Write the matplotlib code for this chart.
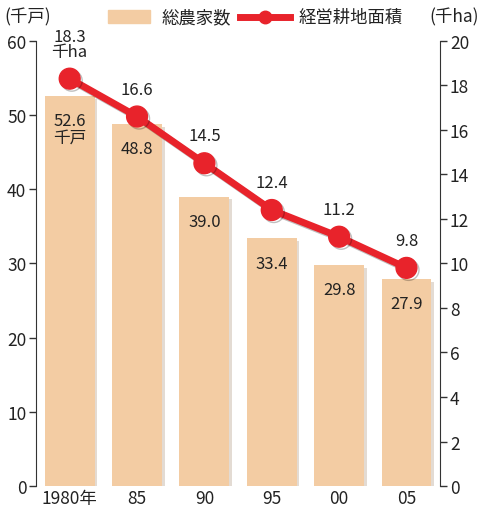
import matplotlib.pyplot as plt
import matplotlib.patheffects as pe

plt.rcParams['font.family'] = ['Noto Sans CJK JP', 'DejaVu Sans']

# data
years = ["1980年", "85", "90", "95", "00", "05"]
households = [52.6, 48.8, 39.0, 33.4, 29.8, 27.9]   # 総農家数 (千戸)
area = [18.3, 16.6, 14.5, 12.4, 11.2, 9.8]          # 経営耕地面積 (千ha)

bar_color = "#f3cca3"
line_color = "#e8232b"
txt = "#222222"

fig = plt.figure(figsize=(4.8, 5.1), dpi=100)
ax = fig.add_axes([0.075, 0.045, 0.842, 0.873])
x = range(len(years))

ax.bar(x, households, width=0.74, color=bar_color, zorder=2,
       path_effects=[pe.SimplePatchShadow(offset=(2, -2), shadow_rgbFace="#c9b8a8", alpha=0.5),
                     pe.Normal()])
ax.set_xlim(-0.5, 5.5)
ax.set_ylim(0, 60)
ax.set_yticks(range(0, 61, 10))
ax.set_xticks(list(x))
ax.set_xticklabels(years)

for s in ["top", "right", "bottom"]:
    ax.spines[s].set_visible(False)
ax.spines["left"].set_color("#333333")
ax.tick_params(axis="y", length=5, width=1, color="#333333", labelsize=12.5, pad=2, labelcolor=txt)
ax.tick_params(axis="x", length=0, labelsize=12.5, pad=2, labelcolor=txt)

for i, v in enumerate(households):
    lbl = f"{v:.1f}\n千戸" if i == 0 else f"{v:.1f}"
    ax.text(i, v - 2.2, lbl, ha="center", va="top", fontsize=12, color=txt,
            linespacing=1.0, zorder=4)

ax2 = ax.twinx()
ax2.set_ylim(0, 20)
ax2.set_yticks(range(0, 21, 2))
for s in ["top", "left", "bottom"]:
    ax2.spines[s].set_visible(False)
ax2.spines["right"].set_color("#333333")
ax2.tick_params(axis="y", length=5, width=1, color="#333333", labelsize=12.5, pad=2, labelcolor=txt)
ax2.plot(list(x), area, color=line_color, lw=5, marker="o", markersize=15, zorder=5,
         path_effects=[pe.SimpleLineShadow(offset=(1.5, -1.5), alpha=0.25), pe.Normal()])

for i, v in enumerate(area):
    lbl = f"{v:.1f}\n千ha" if i == 0 else f"{v:.1f}"
    ax2.text(i, v + 0.85, lbl, ha="center", va="bottom", fontsize=12, color=txt,
             linespacing=0.85, zorder=6)

fig.text(0.01, 0.965, "(千戸)", fontsize=12.5, ha="left", va="center", color=txt)
fig.text(0.998, 0.965, "(千ha)", fontsize=12.5, ha="right", va="center", color=txt)

# legend
fig.patches.append(plt.Rectangle((0.225, 0.952), 0.088, 0.026, transform=fig.transFigure,
                                 color=bar_color, figure=fig))
fig.text(0.337, 0.965, "総農家数", fontsize=12.5, ha="left", va="center", color=txt)
fig.add_artist(plt.Line2D([0.5, 0.605], [0.965, 0.965], transform=fig.transFigure,
                          color=line_color, lw=5))
fig.add_artist(plt.Line2D([0.5525], [0.965], transform=fig.transFigure,
                          color=line_color, marker="o", markersize=9))
fig.text(0.622, 0.965, "経営耕地面積", fontsize=12.5, ha="left", va="center", color=txt)

fig.savefig("out.png", dpi=100)
